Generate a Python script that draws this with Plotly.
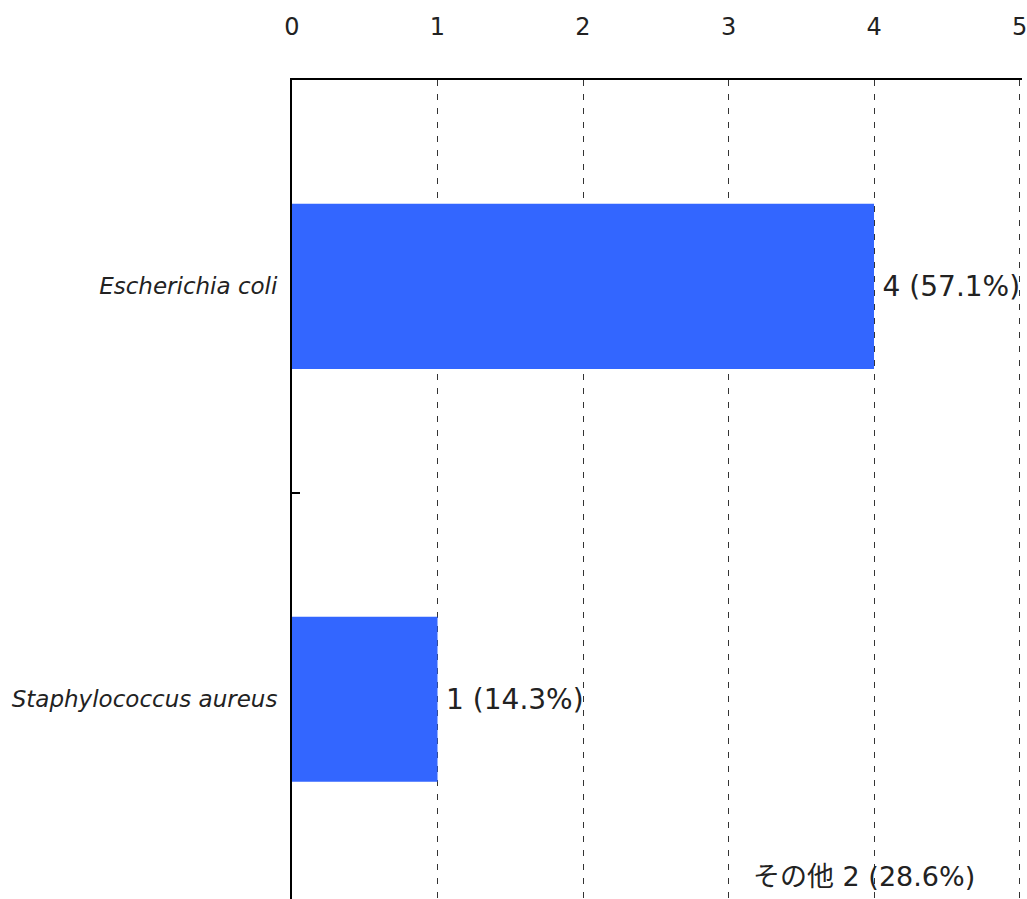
import plotly.graph_objects as go

# organisms and counts
organisms = ["Escherichia coli", "Staphylococcus aureus"]
counts = [4, 1]
other_label = "その他"
other_count = 2
x_ticks = [0, 1, 2, 3, 4, 5]

total = sum(counts) + other_count
bar_text = ["\u2009%d (%.1f%%)" % (c, 100.0 * c / total) for c in counts]
other_text = "%s %d (%.1f%%)" % (other_label, other_count, 100.0 * other_count / total)

font_main = "DejaVu Sans, Verdana, Noto Sans CJK JP, sans-serif"

fig = go.Figure()
fig.add_trace(
    go.Bar(
        x=counts,
        y=organisms,
        orientation="h",
        marker=dict(color="#3366FF", line=dict(width=0)),
        text=bar_text,
        textposition="outside",
        textfont=dict(size=28, color="#222222", family=font_main),
        constraintext="none",
        cliponaxis=False,
        showlegend=False,
    )
)

fig.update_xaxes(
    side="top",
    range=[0, 5.017],
    tickvals=x_ticks,
    automargin=False,
    showline=True,
    linecolor="black",
    linewidth=2,
    showgrid=True,
    gridcolor="#333333",
    gridwidth=1,
    griddash="6px,8px",
    zeroline=False,
    ticks="",
    ticklabelstandoff=33,
    ticklabeloverflow="allow",
    tickfont=dict(size=24, color="#222222", family=font_main),
)

fig.update_yaxes(
    type="category",
    range=[1.484, -0.5],
    automargin=False,
    showline=True,
    linecolor="black",
    linewidth=2,
    showgrid=False,
    zeroline=False,
    ticks="inside",
    tickson="boundaries",
    ticklen=8,
    tickwidth=2,
    tickcolor="black",
    ticklabelstandoff=8,
    tickfont=dict(size=23, color="#222222", family=font_main, style="italic"),
)

fig.add_annotation(
    text=other_text,
    xref="paper",
    yref="paper",
    x=0.783,
    y=0.027,
    xanchor="center",
    yanchor="middle",
    showarrow=False,
    font=dict(size=27, color="#222222", family=font_main),
)

fig.update_layout(
    width=1027,
    height=899,
    margin=dict(l=292, r=5, t=80, b=0),
    bargap=0.6,
    plot_bgcolor="white",
    paper_bgcolor="white",
)

# drop the default body margin so the figure fills the window without scrollbars
fig.write_html(
    "out.html",
    config={"displayModeBar": False},
    post_script="document.body.style.margin='0px';",
)
